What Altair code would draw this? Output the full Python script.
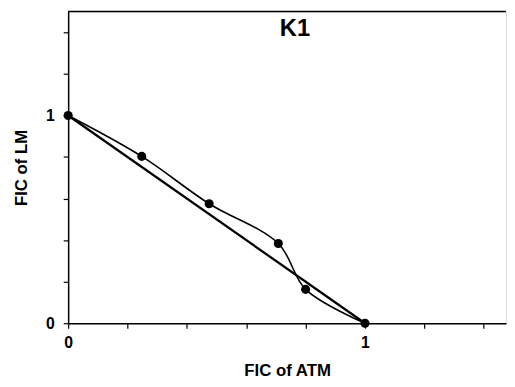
import altair as alt
import pandas as pd

# data
fic_atm = [0.0, 0.248, 0.475, 0.708, 0.80, 1.0]
fic_lm = [1.0, 0.803, 0.575, 0.384, 0.163, 0.0]
additivity_x = [0.0, 1.0]
additivity_y = [1.0, 0.0]
title_text = "K1"

pts = pd.DataFrame({"x": fic_atm, "y": fic_lm})
line_df = pd.DataFrame({"x": additivity_x, "y": additivity_y})

FONT = "Liberation Sans"
W = 444
XMAX = W / 301.0
YMAX = 1.5

xs = alt.Scale(domain=[0, XMAX], nice=False, zero=False)
ys = alt.Scale(domain=[0, YMAX], nice=False, zero=False)

common = dict(grid=False, tickSize=5,
              labelExpr="datum.value == 0 ? '0' : (datum.value == 1 ? '1' : '')",
              labelFont=FONT, labelFontSize=16, labelFontWeight="bold",
              titleFont=FONT, titleFontSize=17, titleFontWeight="bold",
              domainColor="black", tickColor="black", labelColor="black",
              titleColor="black", domainWidth=1.5, tickWidth=1.2,
              labelFlush=False, labelOverlap=False)
ticks = [0, 0.2, 0.4, 0.6, 0.8, 1.0, 1.2, 1.4]
xaxis = alt.Axis(title="FIC of ATM", values=ticks, labelPadding=7, titlePadding=12, **common)
yaxis = alt.Axis(title="FIC of LM", values=ticks, labelPadding=9, titlePadding=15, **common)

base = alt.Chart(pts)

curve = base.mark_line(color="black", strokeWidth=1.6, interpolate="catmull-rom").encode(
    x=alt.X("x:Q", scale=xs, axis=xaxis),
    y=alt.Y("y:Q", scale=ys, axis=yaxis),
)
dots = base.mark_circle(color="black", size=85, opacity=1).encode(
    x=alt.X("x:Q", scale=xs), y=alt.Y("y:Q", scale=ys)
)
straight = alt.Chart(line_df).mark_line(color="black", strokeWidth=2.3).encode(
    x=alt.X("x:Q", scale=xs), y=alt.Y("y:Q", scale=ys)
)
top = alt.Chart(pd.DataFrame({"y": [YMAX]})).mark_rule(color="black", strokeWidth=1.5).encode(
    y=alt.Y("y:Q", scale=ys), x=alt.value(0), x2=alt.value(W)
)
label = alt.Chart(pd.DataFrame({"t": [title_text]})).mark_text(
    font=FONT, fontSize=24, fontWeight="bold", color="black"
).encode(text="t:N", x=alt.value(230), y=alt.value(18))

chart = alt.layer(straight, curve, dots, top, label).properties(
    width=W, height=316,
    padding={"left": 5, "top": 0, "right": 0, "bottom": 5},
).configure_view(stroke=None).configure(background="white")

chart.save("out.html", embed_options={"renderer": "svg", "actions": False})
